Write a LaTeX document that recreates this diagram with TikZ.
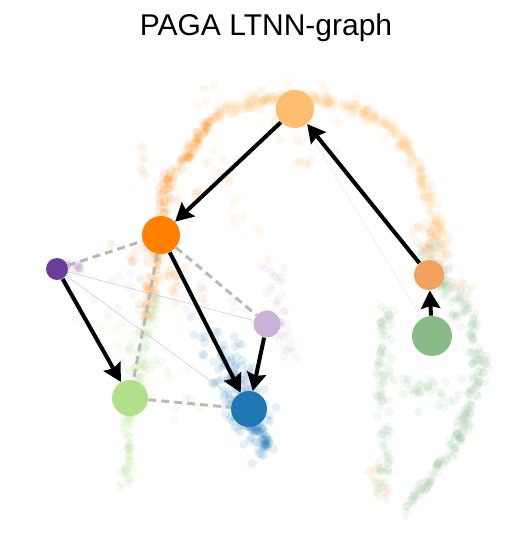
\documentclass[tikz,border=0pt]{standalone}
\usepackage{fontspec}
\setmainfont{Liberation Sans}
\usetikzlibrary{arrows.meta}
\definecolor{clorange}{RGB}{253,191,111}
\definecolor{corange}{RGB}{255,127,0}
\definecolor{cdpurple}{RGB}{106,61,154}
\definecolor{clpurple}{RGB}{202,178,214}
\definecolor{clgreen}{RGB}{178,223,138}
\definecolor{cblue}{RGB}{31,120,180}
\definecolor{csalmon}{RGB}{242,162,95}
\definecolor{cgreen}{RGB}{137,187,137}
\definecolor{cdash}{RGB}{185,185,185}
\newcommand\scat[7]{%
  \foreach \k in {1,...,#2}{%
    \pgfmathsetmacro\myt{rnd}%
    \pgfmathsetmacro\px{#4+(#6-#4)*\myt+0.6*#3*(rand+rand)}%
    \pgfmathsetmacro\py{#5+(#7-#5)*\myt+0.6*#3*(rand+rand)}%
    \fill[#1,opacity=0.11] (\px,\py) circle[radius=2.3pt];
  }}
\tikzset{
  gnode/.style={circle,inner sep=0pt,draw=none},
  arr/.style={line width=2pt,-{Stealth[length=9pt,width=9.5pt,inset=1.2pt]}},
  dashedge/.style={cdash,line width=1.5pt,dash pattern=on 4pt off 2.5pt},
  thinedge/.style={cdash!70,line width=0.3pt},
}
\begin{document}
\begin{tikzpicture}[x=0.5pt,y=-0.5pt]
\useasboundingbox (0,0) rectangle (531,554);
\pgfmathsetseed{7}
% scatter: light orange arc
\scat{clorange}{50}{6}{215}{115}{260}{100}
\scat{clorange}{50}{6}{260}{100}{300}{97}
\scat{clorange}{50}{6}{300}{97}{350}{105}
\scat{clorange}{45}{6}{350}{105}{390}{125}
\scat{clorange}{40}{6}{390}{125}{415}{160}
\scat{clorange}{40}{7}{415}{160}{432}{205}
\scat{clorange}{40}{9}{432}{205}{445}{250}
\scat{clorange}{18}{15}{210}{150}{265}{250}
\scat{clorange}{10}{12}{290}{140}{305}{170}
\scat{clorange}{25}{30}{200}{90}{400}{140}
% dark orange
\scat{corange}{60}{6}{168}{180}{215}{115}
\scat{corange}{55}{6}{158}{240}{168}{180}
\scat{corange}{45}{8}{145}{320}{158}{240}
\scat{corange}{25}{25}{130}{250}{200}{300}
\scat{corange}{12}{20}{140}{150}{190}{200}
% salmon
\scat{csalmon}{50}{14}{420}{230}{460}{300}
\scat{csalmon}{10}{10}{370}{460}{390}{500}
% green
\scat{cgreen}{70}{14}{425}{250}{470}{320}
\scat{cgreen}{35}{9}{470}{320}{480}{370}
\scat{cgreen}{35}{7}{480}{370}{465}{420}
\scat{cgreen}{35}{7}{465}{420}{445}{460}
\scat{cgreen}{40}{6}{445}{460}{405}{510}
\scat{cgreen}{35}{8}{388}{300}{380}{380}
\scat{cgreen}{25}{7}{380}{380}{388}{460}
\scat{cgreen}{15}{6}{388}{460}{372}{500}
\scat{cgreen}{35}{20}{390}{370}{450}{400}
% light green
\scat{clgreen}{55}{7}{155}{290}{135}{400}
\scat{clgreen}{45}{6}{130}{410}{125}{490}
\scat{clgreen}{35}{25}{100}{310}{190}{400}
% blue
\scat{cblue}{120}{22}{220}{360}{262}{440}
\scat{cblue}{50}{7}{250}{420}{268}{452}
\scat{cblue}{25}{20}{200}{330}{240}{380}
% light purple
\scat{clpurple}{40}{12}{268}{250}{285}{355}
\scat{clpurple}{20}{25}{90}{280}{240}{320}
\scat{clpurple}{12}{6}{50}{268}{85}{268}
\scat{cdpurple}{8}{4}{60}{268}{80}{268}
% graph nodes
\node[font=\fontsize{15}{18}\selectfont] (title) at (266,28) {PAGA LTNN-graph};
\node[gnode,fill=clorange,minimum size=19pt] (top) at (295,109) {};
\node[gnode,fill=corange,minimum size=19pt] (orange) at (161,235) {};
\node[gnode,fill=cdpurple,minimum size=11pt] (dpurple) at (57,269) {};
\node[gnode,fill=clpurple,minimum size=13.5pt] (lpurple) at (267,324) {};
\node[gnode,fill=clgreen,minimum size=18pt] (lgreen) at (130,398) {};
\node[gnode,fill=cblue,minimum size=18pt] (blue) at (249,409) {};
\node[gnode,fill=csalmon,minimum size=15pt] (salmon) at (429,275) {};
\node[gnode,fill=cgreen,minimum size=20pt] (green) at (432,336) {};
% weak edges
\draw[thinedge] (dpurple) -- (lpurple);
\draw[thinedge] (dpurple) -- (blue);
\draw[cdash!40,line width=0.2pt] (top) -- (green);
% dashed edges
\draw[dashedge] (dpurple) -- (orange);
\draw[dashedge] (orange) -- (lpurple);
\draw[dashedge] (orange) -- (lgreen);
\draw[dashedge] (lgreen) -- (blue);
% arrows
\draw[arr] (top) -- (orange);
\draw[arr] (salmon) -- (top);
\draw[arr] (dpurple) -- (lgreen);
\draw[arr] (orange) -- (blue);
\draw[arr] (lpurple) -- (blue);
\draw[arr] (green) -- (salmon);
\end{tikzpicture}
\end{document}
